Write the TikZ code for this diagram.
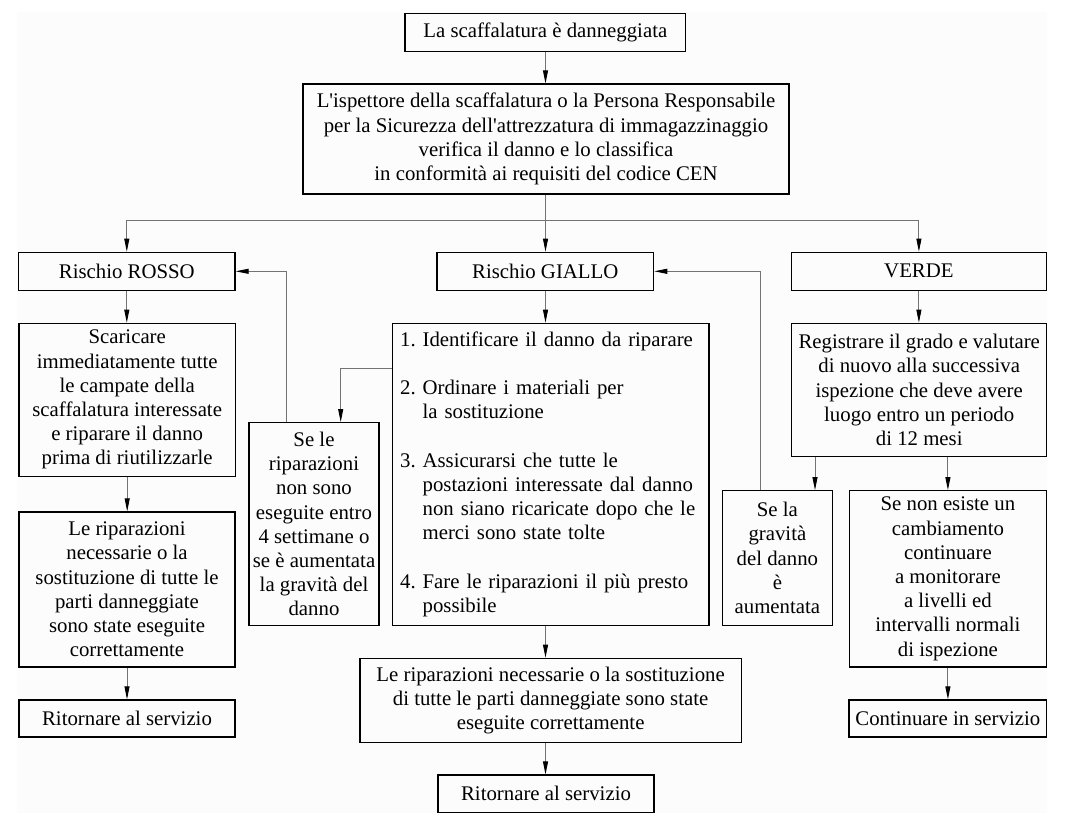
\documentclass[tikz,border=0pt]{standalone}
\usepackage{fontspec}
\setmainfont{Liberation Serif}
\usetikzlibrary{arrows.meta}
\newcommand\diagfont{\fontsize{20.8pt}{24.2pt}\selectfont\frenchspacing}
\tikzset{
  box/.style={draw=black, line width=1.3pt, align=center, inner sep=0pt, font=\diagfont},
  conn/.style={draw=black!55, line width=0.9pt, -{Triangle[length=13pt,width=5pt,color=black]}},
}
\begin{document}
\begin{tikzpicture}[x=1pt,y=-1pt]
\useasboundingbox (0,0) rectangle (1073,821);
\fill[black!1] (17,12) rectangle (1046.5,813);

\node[box, minimum width=280.5pt, minimum height=38pt] (top) at (545.3,32.3) {La scaffalatura è danneggiata};
\node[box, minimum width=486pt, minimum height=110pt] (insp) at (546,139) {L\textquotesingle ispettore della scaffalatura o la Persona Responsabile\\per la Sicurezza dell\textquotesingle attrezzatura di immagazzinaggio\\verifica il danno e lo classifica\\in conformità ai requisiti del codice CEN};
\node[box, minimum width=216.4pt, minimum height=38pt] (rosso) at (126.8,271.3) {Rischio ROSSO};
\node[box, minimum width=216.6pt, minimum height=38pt] (giallo) at (545.3,271.3) {Rischio GIALLO};
\node[box, minimum width=254.9pt, minimum height=38pt] (verde) at (918.9,271.3) {VERDE};

\node[box, minimum width=216.3pt, minimum height=153pt] (scar) at (127.2,399.8) {Scaricare\\immediatamente tutte\\le campate della\\scaffalatura interessate\\e riparare il danno\\prima di riutilizzarle};
\node[box, minimum width=216pt, minimum height=155pt] (lrip) at (127,589.5) {Le riparazioni\\necessarie o la\\sostituzione di tutte le\\parti danneggiate\\sono state eseguite\\correttamente};
\node[box, minimum width=216pt, minimum height=37pt] (lrit) at (127,718.5) {Ritornare al servizio};

\node[box, minimum width=130pt, minimum height=202.6pt] (sele) at (314,524) {Se le\\riparazioni\\non sono\\eseguite entro\\4 settimane o\\se è aumentata\\la gravità del\\danno};

\node[box, align=left, text width=301pt, inner xsep=7.8pt, minimum height=302pt] (list) at (550.6,474.3) {1. Identificare il danno da riparare\\[24.2pt]2. Ordinare i materiali per\\\hphantom{2. }la sostituzione\\[24.2pt]3. Assicurarsi che tutte le\\\hphantom{3. }postazioni interessate dal danno\\\hphantom{3. }non siano ricaricate dopo che le\\\hphantom{3. }merci sono state tolte\\[24.2pt]4. Fare le riparazioni il più presto\\\hphantom{4. }possibile};

\node[box, minimum width=381.2pt, minimum height=84pt] (crip) at (550.6,700.3) {Le riparazioni necessarie o la sostituzione\\di tutte le parti danneggiate sono state\\eseguite correttamente};
\node[box, minimum width=216pt, minimum height=37.3pt] (brit) at (546,793.7) {Ritornare al servizio};

\node[box, minimum width=255pt, minimum height=133.4pt] (reg) at (919.2,390) {Registrare il grado e valutare\\di nuovo alla successiva\\ispezione che deve avere\\luogo entro un periodo\\di 12 mesi};
\node[box, minimum width=110.2pt, minimum height=134.6pt] (sela) at (777.4,558) {Se la\\gravità\\del danno\\è\\aumentata};
\node[box, minimum width=197.4pt, minimum height=176.3pt] (senon) at (947.9,578.9) {Se non esiste un\\cambiamento\\continuare\\a monitorare\\a livelli ed\\intervalli normali\\di ispezione};
\node[box, minimum width=197.6pt, minimum height=37pt] (cont) at (947.8,718.5) {Continuare in servizio};

\coordinate (jn) at (545.5,220);
\draw[conn] (top.south -| 545.5,0) -- (insp.north -| 545.5,0);
\draw[conn] (insp.south -| 545.5,0) -- (giallo.north -| 545.5,0);
\draw[conn] (jn) -| (rosso.north);
\draw[conn] (jn) -| (verde.north);
\draw[conn] (rosso.south) -- (rosso.south |- scar.north);
\draw[conn] (scar.south) -- (scar.south |- lrip.north);
\draw[conn] (lrip.south) -- (lrip.south |- lrit.north);
\draw[conn] (giallo.south -| 545.5,0) -- (list.north -| 545.5,0);
\draw[conn] (list.west |- 0,368.3) -| (sele.north -| 340.7,0);
\draw[conn] (sele.north -| 286,0) |- (rosso.east);
\draw[conn] (list.south -| 545.5,0) -- (crip.north -| 545.5,0);
\draw[conn] (crip.south -| 545.5,0) -- (brit.north -| 545.5,0);
\draw[conn] (verde.south) -- (verde.south |- reg.north);
\draw[conn] (reg.south -| 815,0) -- (sela.north -| 815,0);
\draw[conn] (reg.south -| senon.north) -- (senon.north);
\draw[conn] (senon.south) -- (senon.south |- cont.north);
\draw[conn] (sela.north -| 760,0) |- (giallo.east);
\end{tikzpicture}
\end{document}
